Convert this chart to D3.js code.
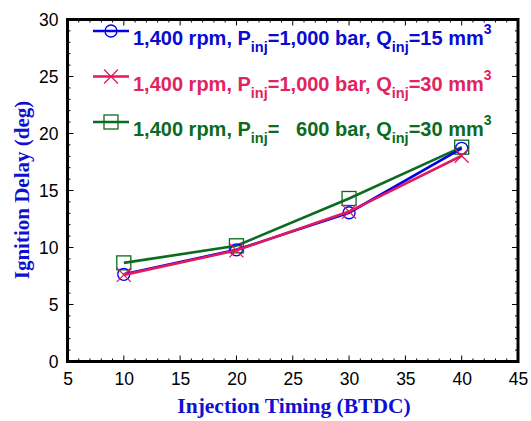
<!DOCTYPE html>
<html>
<head>
<meta charset="utf-8">
<script src="https://cdn.jsdelivr.net/npm/d3@7"></script>
<style>
  body { margin: 0; background: #fff; }
  svg { display: block; }
</style>
</head>
<body>
<div id="chart"></div>
<script>
// --- data ---
const timing = [10, 20, 30, 40];
const delayQ15 = [7.65, 9.8, 13.05, 18.7];
const delayQ30 = [7.6, 9.75, 13.15, 18.05];
const delayP600 = [8.65, 10.15, 14.3, 18.8];
const xTicks = [5, 10, 15, 20, 25, 30, 35, 40, 45];
const yTicks = [0, 5, 10, 15, 20, 25, 30];

const series = [
  { values: delayQ15, color: "#0000ee", text: "#0a0ad0", marker: "circle", p: "1,000", q: "15" },
  { values: delayQ30, color: "#e3195e", text: "#e0245e", marker: "cross", p: "1,000", q: "30" },
  { values: delayP600, color: "#0b6b1f", text: "#0b6b1f", marker: "square", p: "\u00a0\u00a0\u00a0600", q: "30" }
];

const W = 531, H = 421;
const m = { left: 67.5, right: 13, top: 19.5, bottom: 59.5 };
const svg = d3.select("#chart").append("svg").attr("width", W).attr("height", H);

const x = d3.scaleLinear().domain([5, 45]).range([m.left, W - m.right]);
const y = d3.scaleLinear().domain([0, 30]).range([H - m.bottom, m.top]);

// minor ticks all four sides, pointing inward
const minorX = d3.range(5, 46, 1), minorY = d3.range(0, 31, 1);
const tickG = svg.append("g").attr("stroke", "#000").attr("stroke-width", 1);
minorX.forEach(v => {
  const len = v % 5 === 0 ? 6 : 3;
  tickG.append("line").attr("x1", x(v)).attr("x2", x(v)).attr("y1", y(0)).attr("y2", y(0) - len);
  tickG.append("line").attr("x1", x(v)).attr("x2", x(v)).attr("y1", y(30)).attr("y2", y(30) + len);
});
minorY.forEach(v => {
  const len = v % 5 === 0 ? 6 : 3;
  tickG.append("line").attr("y1", y(v)).attr("y2", y(v)).attr("x1", x(5)).attr("x2", x(5) + len);
  tickG.append("line").attr("y1", y(v)).attr("y2", y(v)).attr("x1", x(45)).attr("x2", x(45) - len);
});

// frame
svg.append("rect").attr("x", x(5)).attr("y", y(30))
  .attr("width", x(45) - x(5)).attr("height", y(0) - y(30))
  .attr("fill", "none").attr("stroke", "#000").attr("stroke-width", 3);

// tick labels
const xAxis = svg.append("g").attr("transform", `translate(0,${y(0)})`)
  .call(d3.axisBottom(x).tickValues(xTicks).tickSize(0).tickPadding(11));
const yAxis = svg.append("g").attr("transform", `translate(${x(5)},0)`)
  .call(d3.axisLeft(y).tickValues(yTicks).tickSize(0).tickPadding(9));
[xAxis, yAxis].forEach(a => {
  a.select(".domain").remove();
  a.selectAll("text").attr("font-family", "Liberation Sans, Arial, sans-serif")
    .attr("font-size", 17.5).attr("fill", "#000");
});

// axis titles
svg.append("text").attr("x", 294).attr("y", 413).attr("text-anchor", "middle")
  .attr("font-family", "Liberation Serif, Times New Roman, serif").attr("font-weight", "bold")
  .attr("font-size", 21.5).attr("fill", "#1010d0").text("Injection Timing (BTDC)");
svg.append("text").attr("transform", "translate(29,190) rotate(-90)").attr("text-anchor", "middle")
  .attr("font-family", "Liberation Serif, Times New Roman, serif").attr("font-weight", "bold")
  .attr("font-size", 21).attr("fill", "#1010d0").text("Ignition Delay (deg)");

// markers
function drawMarker(g, type, cx, cy, color) {
  if (type === "circle") {
    g.append("circle").attr("cx", cx).attr("cy", cy).attr("r", 6)
      .attr("fill", "none").attr("stroke", color).attr("stroke-width", 1.3);
  } else if (type === "cross") {
    const s = 7;
    g.append("path").attr("d", `M${cx - s},${cy - s}L${cx + s},${cy + s}M${cx - s},${cy + s}L${cx + s},${cy - s}`)
      .attr("stroke", color).attr("stroke-width", 1.3);
  } else {
    g.append("rect").attr("x", cx - 7).attr("y", cy - 7).attr("width", 14).attr("height", 14)
      .attr("fill", "none").attr("stroke", color).attr("stroke-width", 1.3);
  }
}

// series lines (green drawn first so blue/pink sit on top)
const line = d3.line().x((d, i) => x(timing[i])).y(d => y(d));
[2, 0, 1].forEach(k => {
  const s = series[k];
  const g = svg.append("g");
  g.append("path").datum(s.values).attr("d", line)
    .attr("fill", "none").attr("stroke", s.color).attr("stroke-width", 2.6);
  s.values.forEach((v, i) => drawMarker(g, s.marker, x(timing[i]), y(v), s.color));
});

// legend
const leg = svg.append("g").attr("font-family", "Liberation Sans, Arial, sans-serif")
  .attr("font-weight", "bold");
series.forEach((s, k) => {
  const base = 45 + k * 45.5;
  const ly = base - 14;
  leg.append("line").attr("x1", 93).attr("x2", 129).attr("y1", ly).attr("y2", ly)
    .attr("stroke", s.color).attr("stroke-width", 2.6);
  drawMarker(leg, s.marker, 111, ly, s.color);
  const t = leg.append("text").attr("x", 133).attr("y", base).attr("font-size", 20).attr("fill", s.text);
  t.append("tspan").text("1,400 rpm, P");
  t.append("tspan").attr("font-size", 14.5).attr("dy", 7).text("inj");
  t.append("tspan").attr("dy", -7).text("=" + s.p + " bar, Q");
  t.append("tspan").attr("font-size", 14.5).attr("dy", 7).text("inj");
  t.append("tspan").attr("dy", -7).text("=" + s.q + " mm");
  t.append("tspan").attr("font-size", 14).attr("dy", -11).text("3");
});
</script>
</body>
</html>
